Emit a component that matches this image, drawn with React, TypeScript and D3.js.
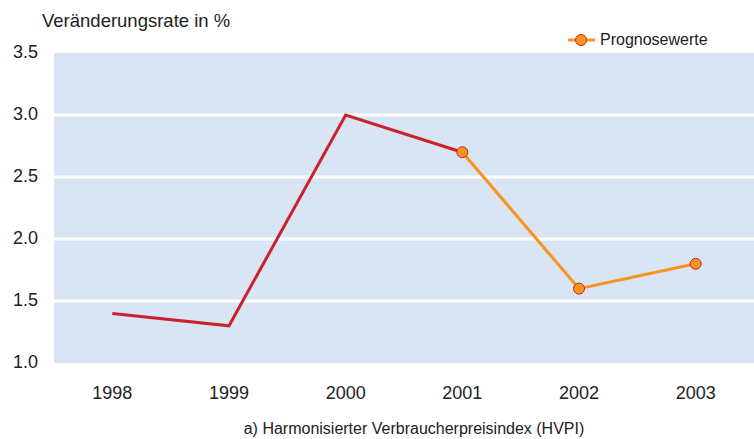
import * as d3 from "d3";

// Jahre und Werte
const years = ["1998", "1999", "2000", "2001", "2002", "2003"];
const actualValues = [1.4, 1.3, 3.0, 2.7];
const forecastYears = ["2001", "2002", "2003"];
const forecastValues = [2.7, 1.6, 1.8];
const yTicks = [1.0, 1.5, 2.0, 2.5, 3.0, 3.5];

const width = 754;
const height = 439;
const marginLeft = 54;
const marginRight = 0;
const plotTop = 53;
const plotBottom = 363;

const red = "#c8232c";
const orange = "#f7941d";
const bg = "#d9e4f4";

export default function App() {
  const x = d3
    .scaleBand()
    .domain(years)
    .range([marginLeft, width - marginRight]);
  const cx = (d: string) => (x(d) ?? 0) + x.bandwidth() / 2;

  const y = d3.scaleLinear().domain([1.0, 3.5]).range([plotBottom, plotTop]);

  const line = d3
    .line<[string, number]>()
    .x((d) => cx(d[0]))
    .y((d) => y(d[1]));

  const actual: [string, number][] = actualValues.map((v, i) => [years[i], v]);
  const forecast: [string, number][] = forecastValues.map((v, i) => [forecastYears[i], v]);

  const font = "'Liberation Sans', Arial, sans-serif";

  return (
    <svg
      width={width}
      height={height}
      style={{ position: "absolute", left: 0, top: 0, fontFamily: font }}
    >
      <rect
        x={marginLeft}
        y={plotTop}
        width={width - marginLeft - marginRight}
        height={plotBottom - plotTop}
        fill={bg}
      />
      {/* Gitterlinien */}
      {yTicks
        .filter((t) => t > 1.0 && t < 3.5)
        .map((t) => (
          <line
            key={t}
            x1={marginLeft}
            x2={width - marginRight}
            y1={y(t)}
            y2={y(t)}
            stroke="#fff"
            strokeWidth={3}
          />
        ))}
      {/* y-Achse */}
      {yTicks.map((t) => (
        <text
          key={t}
          x={38}
          y={y(t)}
          textAnchor="end"
          dominantBaseline="middle"
          fontSize={18}
          fill="#222"
        >
          {t.toFixed(1)}
        </text>
      ))}
      {/* x-Achse */}
      {years.map((yr) => (
        <text key={yr} x={cx(yr)} y={399} textAnchor="middle" fontSize={18} fill="#222">
          {yr}
        </text>
      ))}
      <text x={42} y={27} fontSize={18.5} fill="#222">
        Veränderungsrate in %
      </text>
      <text x={414} y={434} textAnchor="middle" fontSize={16} fill="#222">
        a) Harmonisierter Verbraucherpreisindex (HVPI)
      </text>

      {/* Linien */}
      <path d={line(actual) ?? ""} fill="none" stroke={red} strokeWidth={3} />
      <path d={line(forecast) ?? ""} fill="none" stroke={orange} strokeWidth={3} />
      {forecast.map((d) => (
        <circle
          key={d[0]}
          cx={cx(d[0])}
          cy={y(d[1])}
          r={5.5}
          fill={orange}
          stroke={red}
          strokeWidth={1}
        />
      ))}

      {/* Legende */}
      <line x1={568} x2={595} y1={40} y2={40} stroke={orange} strokeWidth={3} />
      <circle cx={581} cy={40} r={5.5} fill={orange} stroke={red} strokeWidth={1} />
      <text x={600} y={41} dominantBaseline="middle" fontSize={16} fill="#222">
        Prognosewerte
      </text>
    </svg>
  );
}
